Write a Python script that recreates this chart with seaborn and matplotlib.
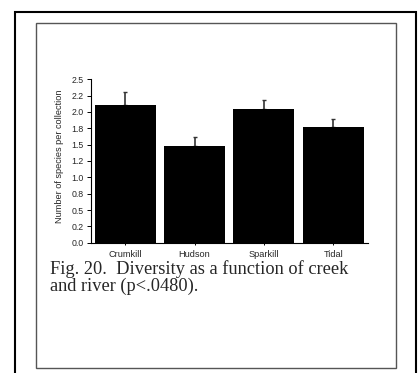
import matplotlib
matplotlib.use("Agg")
import matplotlib.pyplot as plt
from matplotlib.patches import Rectangle
import seaborn as sns
import pandas as pd
import numpy as np

# Mean species per collection at each site, with standard errors
sites = ["Crumkill", "Hudson", "Sparkill", "Tidal"]
means = [2.11, 1.48, 2.05, 1.77]
errors = [0.19, 0.14, 0.14, 0.125]
yticks = [0.0, 0.25, 0.5, 0.75, 1.0, 1.25, 1.5, 1.75, 2.0, 2.25, 2.5]
ylabel = "Number of species per collection"
caption_lines = ["Fig. 20.  Diversity as a function of creek",
                 "and river (p<.0480)."]

sns.set_style("white")
plt.rcParams["font.family"] = ["Liberation Sans", "DejaVu Sans"]

W, H = 418, 373
fig = plt.figure(figsize=(W / 100, H / 100), dpi=100)

def fx(px):
    return px / W

def fy(py):
    return 1 - py / H

ax = fig.add_axes([fx(90.5), fy(242.7), fx(368) - fx(90.5), fy(79.3) - fy(242.7)])

df = pd.DataFrame({"site": sites, "mean": means, "err": errors})
sns.barplot(data=df, x="site", y="mean", color="black", width=0.88,
            errorbar=None, ax=ax, saturation=1, edgecolor="black", linewidth=0)

xpos = np.arange(len(sites))
ax.errorbar(xpos, df["mean"], yerr=[np.zeros(len(sites)), df["err"]],
            fmt="none", ecolor="#333333", elinewidth=1.2, capsize=1.5,
            capthick=1.0, zorder=1)
for p in ax.patches:
    p.set_zorder(2)

ax.set_ylim(0, 2.5)
ax.set_xlim(-0.5, len(sites) - 0.5)
ax.set_yticks(yticks)
ax.set_yticklabels(["%.1f" % v for v in yticks])
ax.set_xlabel("")
ax.set_ylabel(ylabel, fontsize=6.6)
ax.yaxis.set_label_coords(-0.095, 0.53)

for s in ["top", "right"]:
    ax.spines[s].set_visible(False)
for s in ["left", "bottom"]:
    ax.spines[s].set_color("black")
    ax.spines[s].set_linewidth(0.8)

ax.tick_params(axis="y", which="major", direction="out", length=3, width=0.7,
               labelsize=6.3, pad=2, left=True, color="black")
ax.tick_params(axis="x", which="major", direction="out", length=1.5, width=0.7,
               labelsize=6.6, pad=4, bottom=True, color="black")

# Caption in serif type under the chart
cap_y = [274, 291]
for line, y in zip(caption_lines, cap_y):
    fig.text(fx(50), fy(y), line, fontsize=13.2, va="baseline", ha="left",
             family=["Liberation Serif", "DejaVu Serif"])

# Page frames around the figure
outer = Rectangle((fx(15), fy(390)), fx(415.5) - fx(15), fy(12.5) - fy(390),
                  transform=fig.transFigure, fill=False, edgecolor="black",
                  linewidth=1.5, clip_on=False)
inner = Rectangle((fx(36), fy(368.3)), fx(396) - fx(36), fy(23) - fy(368.3),
                  transform=fig.transFigure, fill=False, edgecolor="#555555",
                  linewidth=1.0, clip_on=False)
fig.patches.extend([outer, inner])

fig.savefig("out.png", dpi=100)
